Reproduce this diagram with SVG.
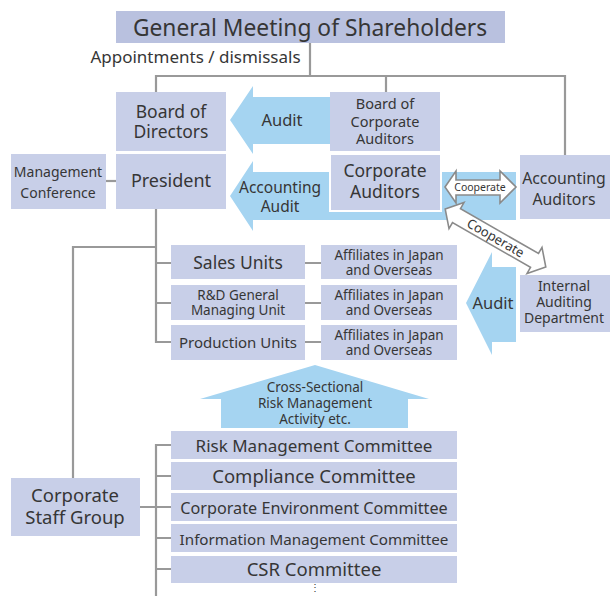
<svg xmlns="http://www.w3.org/2000/svg" width="610" height="596" viewBox="0 0 610 596">
<style>
.box{fill:#c8cfe8}
.title{fill:#b9c1df}
.arr{fill:#a5d4f1}
.ln{stroke:#999;stroke-width:2.2;fill:none}
.coop{fill:#fff;stroke:#8a8a8a;stroke-width:1.6}
text{font-family:"Noto Sans","Open Sans",sans-serif;fill:#363636;text-anchor:middle}
</style>
<rect width="610" height="596" fill="#fff"/>
<g id="connectors">
<path class="ln" d="M310 43V76M156 92V76H565V155M386 76V92"/>
<path class="ln" d="M106 181H116"/>
<path class="ln" d="M156 209V342H171M156 263H171M156 303H171M156 247H73V478"/>
<path class="ln" d="M305 263H321M305 303H321M305 342H321"/>
<path class="ln" d="M140 507H156M156 596V445H171M156 476H171M156 507H171M156 538H171M156 569H171"/>
</g>
<g id="arrow-audit-top">
<polygon class="arr" points="230,120 253,86 253,97 330,97 330,144 253,144 253,154"/>
<text x="282" y="126" font-size="16.5">Audit</text>
</g>
<g id="arrow-accounting-audit">
<polygon class="arr" points="230,196 253,161 253,172 516,172 516,220 253,220 253,231"/>
<text x="280" y="193" font-size="15.5">Accounting</text>
<text x="280" y="212" font-size="15.5">Audit</text>
</g>
<g id="arrow-audit-internal">
<polygon class="arr" points="466,303 492,252 492,267 516,267 516,342 492,342 492,355"/>
<text x="493" y="309" font-size="16.5">Audit</text>
</g>
<g id="arrow-cross-sectional">
<polygon class="arr" points="315,365 429,399 408,399 408,428 221,428 221,399 200,399"/>
<text x="315" y="392" font-size="13.5">Cross-Sectional</text>
<text x="315" y="408" font-size="13.5">Risk Management</text>
<text x="315" y="424" font-size="13.5">Activity etc.</text>
</g>
<g id="gms">
<rect class="title" x="116" y="11" width="389" height="32"/>
<text x="310" y="36" font-size="22.8">General Meeting of Shareholders</text>
</g>
<text x="195.5" y="63" font-size="17">Appointments / dismissals</text>
<g id="board-directors">
<rect class="box" x="116" y="92" width="110" height="59"/>
<text x="171" y="118" font-size="17.5">Board of</text>
<text x="171" y="138" font-size="17.5">Directors</text>
</g>
<g id="board-corp-auditors">
<rect class="box" x="330" y="92" width="110" height="59"/>
<text x="385" y="109" font-size="14.5">Board of</text>
<text x="385" y="127" font-size="14.5">Corporate</text>
<text x="385" y="144" font-size="14.5">Auditors</text>
</g>
<g id="mgmt-conference">
<rect class="box" x="11" y="154" width="95" height="55"/>
<text x="58" y="177" font-size="14">Management</text>
<text x="58" y="198" font-size="14">Conference</text>
</g>
<g id="president">
<rect class="box" x="116" y="154" width="110" height="55"/>
<text x="171" y="187" font-size="18">President</text>
</g>
<g id="corp-auditors">
<rect class="box" x="330" y="154" width="111" height="57" stroke="#fff" stroke-width="2"/>
<text x="385" y="177" font-size="17.5">Corporate</text>
<text x="385" y="198" font-size="17.5">Auditors</text>
</g>
<g id="accounting-auditors">
<rect class="box" x="520" y="155" width="90" height="64"/>
<text x="564" y="184" font-size="15.8">Accounting</text>
<text x="564" y="205" font-size="15.8">Auditors</text>
</g>
<g id="internal-auditing">
<rect class="box" x="520" y="275" width="90" height="57"/>
<text x="564" y="291" font-size="14">Internal</text>
<text x="564" y="307" font-size="14">Auditing</text>
<text x="564" y="323" font-size="14">Department</text>
</g>
<g id="coop-horizontal">
<polygon class="coop" points="445,187 456,171 456,180 500,180 500,171 516,187 500,203 500,195 456,195 456,203"/>
<text x="480" y="191" font-size="10.5">Cooperate</text>
</g>
<g id="coop-diagonal" transform="translate(495.5,238) rotate(29.9)">
<polygon class="coop" points="-58,0 -45,-15 -45,-8 45,-8 45,-15 58,0 45,15 45,8 -45,8 -45,15"/>
<text x="0" y="4.5" font-size="13">Cooperate</text>
</g>
<g id="sales-units">
<rect class="box" x="171" y="245" width="134" height="34"/>
<text x="238" y="269" font-size="17.5">Sales Units</text>
</g>
<g id="rd-unit">
<rect class="box" x="171" y="285" width="134" height="35"/>
<text x="238" y="300" font-size="13.5">R&amp;D General</text>
<text x="238" y="315" font-size="13.5">Managing Unit</text>
</g>
<g id="production-units">
<rect class="box" x="171" y="325" width="134" height="35"/>
<text x="238" y="348" font-size="15">Production Units</text>
</g>
<g id="affiliates-1">
<rect class="box" x="321" y="245" width="136" height="34"/>
<text x="389" y="260" font-size="13.5">Affiliates in Japan</text>
<text x="389" y="275" font-size="13.5">and Overseas</text>
</g>
<g id="affiliates-2">
<rect class="box" x="321" y="285" width="136" height="35"/>
<text x="389" y="300" font-size="13.5">Affiliates in Japan</text>
<text x="389" y="315" font-size="13.5">and Overseas</text>
</g>
<g id="affiliates-3">
<rect class="box" x="321" y="325" width="136" height="35"/>
<text x="389" y="340" font-size="13.5">Affiliates in Japan</text>
<text x="389" y="355" font-size="13.5">and Overseas</text>
</g>
<g id="risk-committee">
<rect class="box" x="171" y="431" width="286" height="28"/>
<text x="314" y="452" font-size="17">Risk Management Committee</text>
</g>
<g id="compliance-committee">
<rect class="box" x="171" y="462" width="286" height="28"/>
<text x="314" y="483" font-size="18.5">Compliance Committee</text>
</g>
<g id="env-committee">
<rect class="box" x="171" y="493" width="286" height="28"/>
<text x="314" y="514" font-size="16.2">Corporate Environment Committee</text>
</g>
<g id="info-committee">
<rect class="box" x="171" y="524" width="286" height="28"/>
<text x="314" y="545" font-size="15.2">Information Management Committee</text>
</g>
<g id="csr-committee">
<rect class="box" x="171" y="556" width="286" height="27"/>
<text x="314" y="576" font-size="18.5">CSR Committee</text>
</g>
<text x="315" y="591" font-size="10">⋮</text>
<g id="corp-staff">
<rect class="box" x="11" y="478" width="129" height="58"/>
<text x="75" y="502" font-size="18.5">Corporate</text>
<text x="75" y="524" font-size="18.5">Staff Group</text>
</g>
</svg>
